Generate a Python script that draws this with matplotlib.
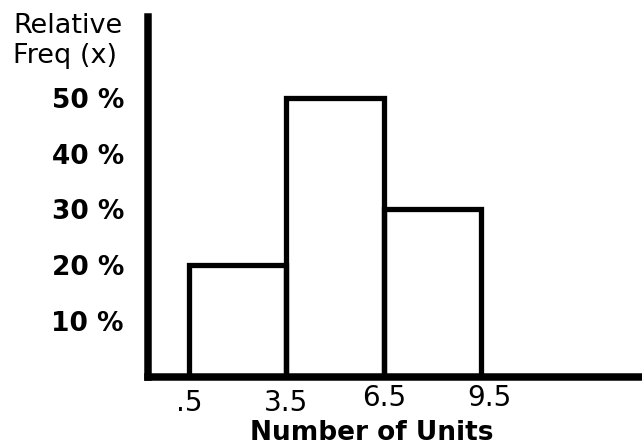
import matplotlib.pyplot as plt

# histogram data
bin_edges = [0.5, 3.5, 6.5, 9.5]
rel_freq = [20, 50, 30]
ytick_vals = [10, 20, 30, 40, 50]
ytick_labels = ["10 %", "20 %", "30 %", "40 %", "50 %"]
xtick_labels = [".5", "3.5", "6.5", "9.5"]

fig = plt.figure(figsize=(6.42, 4.47), dpi=100)
ax = fig.add_axes([147.5 / 642, 70.5 / 447, 494.5 / 642, 359.5 / 447])

widths = [b - a for a, b in zip(bin_edges[:-1], bin_edges[1:])]
ax.bar(bin_edges[:-1], rel_freq, width=widths, align="edge",
       fill=False, edgecolor="black", linewidth=3.8)

ax.set_xlim(-0.78, 14.46)
ax.set_ylim(0, 64.5)

for side in ["top", "right"]:
    ax.spines[side].set_visible(False)
for side in ["left", "bottom"]:
    ax.spines[side].set_linewidth(5.4)
    ax.spines[side].set_capstyle("projecting")
    ax.spines[side].set_zorder(3)

ax.set_yticks(ytick_vals)
ax.set_yticklabels(ytick_labels, fontsize=19, fontweight="bold")
ax.tick_params(axis="y", length=0, pad=17)
ax.set_xticks([])

# x labels sit at slightly different heights in the original
offsets = [(0, -24.5), (0, -24.5), (0, -21), (6, -21)]
for val, lab, off in zip(bin_edges, xtick_labels, offsets):
    ax.annotate(lab, xy=(val, 0), xycoords=("data", "axes fraction"),
                xytext=off, textcoords="offset points",
                ha="center", va="baseline", fontsize=20)

fig.text(372 / 642, 7 / 447, "Number of Units", ha="center", va="baseline",
         fontsize=19, fontweight="bold")
fig.text(13 / 642, 1 - 33 / 447, "Relative", ha="left", va="baseline", fontsize=19.5)
fig.text(13 / 642, 1 - 63 / 447, "Freq (x)", ha="left", va="baseline", fontsize=19.5)

fig.savefig("out.png", dpi=100)
